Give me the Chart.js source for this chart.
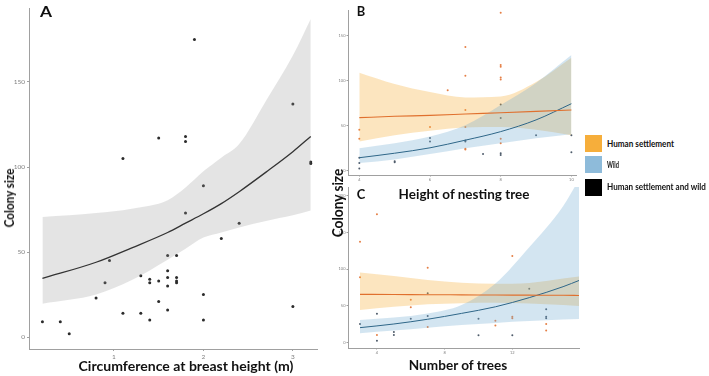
<!DOCTYPE html>
<html><head><meta charset="utf-8">
<script src="https://cdn.jsdelivr.net/npm/chart.js@4.4.1/dist/chart.umd.min.js"></script>
<style>
html,body{margin:0;padding:0;background:#fff;}
#wrap{position:relative;width:709px;height:376px;overflow:hidden;background:#fff;}
canvas{position:absolute;}
.t{position:absolute;white-space:nowrap;line-height:1;color:#111;font-family:Lato,'Open Sans',sans-serif;font-weight:700;}
.sw{position:absolute;width:17px;height:17px;}
</style></head><body>
<div id="wrap">
<canvas id="cA" width="330" height="376" style="left:0;top:0;width:330px;height:376px"></canvas>
<canvas id="cB" width="250" height="183" style="left:330px;top:0;width:250px;height:183px"></canvas>
<canvas id="cC" width="253" height="193" style="left:330px;top:183px;width:253px;height:193px"></canvas>
</div>
<script>
// ---------- Panel A: circumference vs colony size ----------
const circA = [0.2,0.4,0.5,0.8,0.9,0.95,1.1,1.1,1.3,1.3,1.4,1.4,1.4,1.5,1.5,1.5,1.6,1.6,1.6,1.6,1.6,1.7,1.7,1.7,1.7,1.8,1.8,1.8,1.9,2.0,2.0,2.0,2.2,2.4,3.0,3.0,3.2,3.2];
const sizeA = [9,9,2,23,32,45,105,14,36,14,34,32,10,117,33,21,48,39,35,30,16,48,35,33,32,118,115,73,175,89,25,10,58,67,137,18,103,102];
const fitXA = [0.2,0.8,1.2,1.6,1.8,2.0,2.2,2.4,2.7,3.0,3.2];
const fitYA = [34.5,44,52.5,61.5,67,72.5,78.5,85.5,97,109,118];
const upA   = [70.6,73,75.5,80.5,88,97.5,105.5,113.5,139,165.5,187];
const loA   = [19.6,25,33.5,45.5,52,58.5,61.5,64.5,68.3,71.6,74.5];
const ticksAx = [1,2,3];
const ticksAy = [0,50,100,150];

// ---------- Panel B: height of nesting tree ----------
const heightHS = [4,4,6,6.5,7,7,7,7,7,7,8,8,8,8,8,8,8];
const sizeHSB  = [45,35,48,89,137,105,67,48,24,23,175,117,115,103,101,35,30];
const heightW  = [4,4,4,5,5,6,6,7,7,7.5,8,8,8,8,9,10,10];
const sizeWB   = [14,8,2,10,9,36,32,33,32,18,73,58,19,17,39,39,20];
const fitXB  = [4,5,6,7,8,9,10];
const fitHSB = [58.5,60,61,62.5,64,65.5,67];
const upHSB  = [108.5,96,87,81,82,98,125];
const loHSB  = [32,39,44,47.5,48,45,39];
const fitWB  = [14,19,25,33.5,43,56,74];
const upWB   = [24.5,30,37.5,50,72.5,97,128];
const loWB   = [8,12,18,24.5,30,35.5,40];
const ticksBx = [4,6,8,10];
const ticksBy = [0,50,100,150];

// ---------- Panel C: number of trees ----------
const treesHS = [3,3,4,4,6,6,7,7,11,11,12,12,12,14,14];
const sizeHSC = [137.5,89,175,10,58,48,102,21,29.5,23,118,35,33,25,16];
const treesW  = [3,4,4,5,5,6,7,7,10,10,12,13,14,14,14];
const sizeWC  = [25,39,2,14,10,32,67,36,32,9.5,9.5,73,45,35,33];
const fitXC  = [3,5,7,9,11,13,15,16];
const fitHSC = [65.5,65.3,65,64.8,64.6,64.4,64.2,64];
const upHSC  = [95.5,90.5,85,81.5,80,81,87,90];
const loHSC  = [44,48.5,52,53.5,54,53,51,49.5];
const fitWC  = [20,25,31.5,39.5,48.5,61,76,85];
const upWC   = [30.5,34,39.5,51,80.5,130,186,225];
const loWC   = [12.3,16,20,23.5,26.5,29,31,32];
const ticksCx = [4,8,12];
const ticksCy = [0,50,100,150,200];

// ---------- labels ----------
const legendLabels = ['Human settlement','Wild','Human settlement and wild'];
const legendColors = ['#F6AE3B','#8EBBDA','#000000'];

const pts = (xs, ys) => xs.map((x, i) => ({x, y: ys[i]}));
const NONE = 'rgba(0,0,0,0)';

function bandPair(xs, up, lo, fillColor, order) {
  return [
    {type:'line', data: pts(xs, up), showLine:true, pointRadius:0, borderWidth:0, borderColor:NONE, fill:false, cubicInterpolationMode:'monotone', order},
    {type:'line', data: pts(xs, lo), showLine:true, pointRadius:0, borderWidth:0, borderColor:NONE, fill:'-1', backgroundColor:fillColor, cubicInterpolationMode:'monotone', order}
  ];
}
function fitLine(xs, ys, color, width) {
  return {type:'line', data: pts(xs, ys), showLine:true, pointRadius:0, borderColor:color, borderWidth:width, fill:false, cubicInterpolationMode:'monotone', order:1};
}
function scatter(xs, ys, color, r) {
  return {type:'scatter', data: pts(xs, ys), pointRadius:r, pointBackgroundColor:color, pointBorderWidth:0, pointBorderColor:NONE, showLine:false, order:6};
}
function axis(min, max, ticks, o) {
  return {
    type:'linear', min, max,
    afterBuildTicks: s => { s.ticks = ticks.map(v => ({value:v})); },
    afterFit: s => { if (o.w !== undefined) s.width = o.w; if (o.h !== undefined) s.height = o.h; },
    grid:{display:true, drawOnChartArea:false, drawTicks:true, tickLength:o.tl, color:'#a0a0a0', lineWidth:1},
    border:{display:true, color:'#a0a0a0', width:1},
    ticks:{font:{size:o.fs, family:'Lato'}, color:'#808080', padding:o.pad, autoSkip:false, maxRotation:0, callback: v => String(v)}
  };
}
function makeChart(id, datasets, scales, padding) {
  return new Chart(document.getElementById(id), {
    type:'scatter',
    data:{datasets},
    options:{
      responsive:false, animation:false, devicePixelRatio:1,
      layout:{padding},
      plugins:{legend:{display:false}, tooltip:{enabled:false}, title:{display:false}},
      scales
    }
  });
}

// Panel A
makeChart('cA', [
  ...bandPair(fitXA, upA, loA, 'rgba(150,150,150,0.26)', 3),
  fitLine(fitXA, fitYA, '#333333', 1.3),
  scatter(circA, sizeA, '#2b2b2b', 1.5)
], {
  x: axis(0.05, 3.27, ticksAx, {h:27, tl:2, fs:6.5, pad:2}),
  y: axis(-7, 193.5, ticksAy, {w:29, tl:2, fs:6.5, pad:2})
}, {left:0, top:8, right:13, bottom:0});

// Panel B
makeChart('cB', [
  ...bandPair(fitXB, upHSB, loHSB, 'rgba(247,174,55,0.32)', 4),
  ...bandPair(fitXB, upWB, loWB, 'rgba(110,168,210,0.30)', 3),
  fitLine(fitXB, fitHSB, '#E0702E', 1.1),
  fitLine(fitXB, fitWB, '#2E6688', 1.0),
  scatter(heightHS, sizeHSB, '#E57F45', 1.0),
  scatter(heightW, sizeWB, '#4F5C6B', 1.0)
], {
  x: axis(3.68, 10.13, ticksBx, {h:8, tl:1.5, fs:4, pad:1}),
  y: axis(-5.2, 178.1, ticksBy, {w:18, tl:1.5, fs:4, pad:1})
}, {left:0, top:10, right:3, bottom:0});

// Panel C
makeChart('cC', [
  ...bandPair(fitXC, upHSC, loHSC, 'rgba(247,174,55,0.32)', 4),
  ...bandPair(fitXC, upWC, loWC, 'rgba(110,168,210,0.30)', 3),
  fitLine(fitXC, fitHSC, '#E0702E', 1.1),
  fitLine(fitXC, fitWC, '#2E6688', 1.0),
  scatter(treesHS, sizeHSC, '#E57F45', 1.0),
  scatter(treesW, sizeWC, '#4F5C6B', 1.0)
], {
  x: axis(2.29, 15.94, ticksCx, {h:28, tl:1.5, fs:4, pad:1}),
  y: axis(-7.8, 212.2, ticksCy, {w:18, tl:1.5, fs:4, pad:1})
}, {left:0, top:4, right:3, bottom:0});

// ---------- text overlays ----------
const wrap = document.getElementById('wrap');
const mctx = document.createElement('canvas').getContext('2d');
function place(text, cx, cy, size, width, rot) {
  const el = document.createElement('div');
  el.className = 't';
  el.textContent = text;
  el.style.fontSize = size + 'px';
  el.style.left = cx + 'px';
  el.style.top = cy + 'px';
  let sx = 1;
  if (width) {
    mctx.font = `700 ${size}px Lato`;
    sx = width / mctx.measureText(text).width;
  }
  el.style.transform = `translate(-50%,-50%)${rot ? ' rotate(-90deg)' : ''} scaleX(${sx.toFixed(3)})`;
  wrap.appendChild(el);
  return el;
}
place('A', 46, 10.5, 15, 12);
place('B', 360.5, 10.5, 14, 8.5);
place('C', 360.5, 194, 14, 8.5);
place('Colony size', 8.5, 198, 14, 59, true);
place('Circumference at breast height (m)', 185.5, 365.5, 14, 215);
place('Height of nesting tree', 463.5, 193.5, 14, 131);
place('Number of trees', 457.5, 364.5, 14, 99);
place('Colony size', 338, 202.5, 14.5, 69, true);

const lgY = [143.5, 164.5, 187];
const lgW = [67, 12, 99];
legendLabels.forEach((lab, i) => {
  const sw = document.createElement('div');
  sw.className = 'sw';
  sw.style.left = '585px';
  sw.style.top = (lgY[i] - 8.5) + 'px';
  sw.style.background = legendColors[i];
  wrap.appendChild(sw);
  const el = place(lab, 0, lgY[i], 8.5, lgW[i]);
  el.style.transformOrigin = '0 50%';
  el.style.left = '607px';
  mctx.font = '700 8.5px Lato';
  const sx = lgW[i] / mctx.measureText(lab).width;
  el.style.transform = `translateY(-50%) scaleX(${sx.toFixed(3)})`;
});
</script>
</body></html>
